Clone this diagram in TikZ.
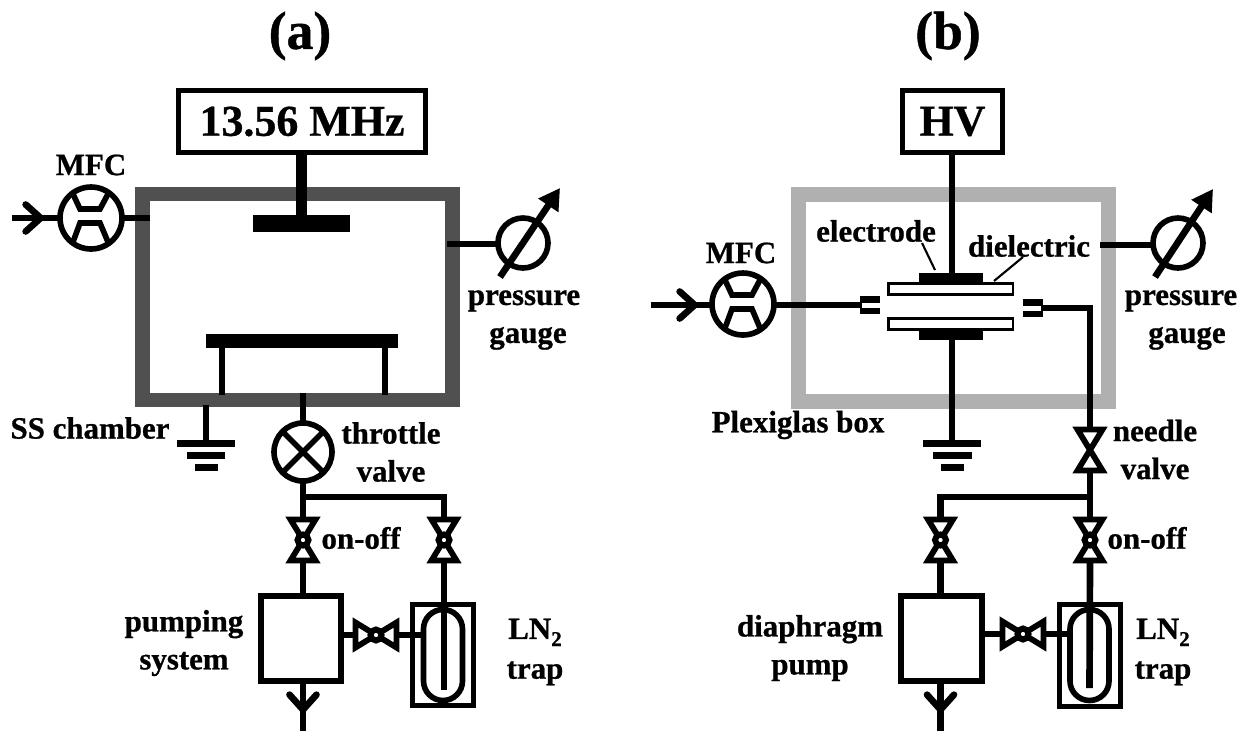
\documentclass[tikz,border=0pt]{standalone}
\usepackage{fontspec}
\setmainfont[BoldFeatures={FakeBold=0.8}]{Liberation Serif}
\usetikzlibrary{arrows.meta}
\definecolor{steelgray}{HTML}{505050}
\definecolor{plexigray}{HTML}{B0B0B0}
\tikzset{
  wire/.style={line width=3.8pt},
  thin wire/.style={line width=2pt},
  lab/.style={font=\fontsize{17.6}{21.6}\selectfont\bfseries,align=center,inner sep=0},
  big/.style={font=\fontsize{25}{30}\selectfont\bfseries,inner sep=0},
  title/.style={font=\fontsize{30.5}{36}\selectfont\bfseries,inner sep=0},
  box/.style={draw,line width=#1,outer sep=0,inner sep=0},
  solid block/.style={fill=black,outer sep=0,inner sep=0},
  dial/.style={draw,circle,line width=3.2pt,outer sep=0,inner sep=0},
  tank/.style={draw,line width=3.2pt,rounded corners=0.39cm,outer sep=0,inner sep=0,minimum width=0.78cm,minimum height=1.82cm},
  barb/.style={-{Straight Barb[length=0.3cm,width=0.54cm,round,sep=0pt]}},
  needle/.style={line width=3.8pt,-{Triangle[length=0.42cm,width=0.46cm]}}
}
\newcommand{\vvalve}[2]{
\node[outer sep=0,inner sep=0,minimum width=0.5cm,minimum height=0.82cm] (#1) at (#2) {};
\draw[line width=3.3pt] (#1.north west) -- (#1.north east) -- (#1.south west) -- (#1.south east) -- cycle;
}
\newcommand{\hub}[1]{
\node[draw,circle,fill=white,line width=3.4pt,inner sep=0,minimum size=0.22cm] at (#1) {};
}
\newcommand{\hvalve}[2]{
\node[outer sep=0,inner sep=0,minimum width=0.82cm,minimum height=0.5cm] (#1) at (#2) {};
\draw[line width=3.3pt] (#1.north west) -- (#1.south west) -- (#1.north east) -- (#1.south east) -- cycle;
\hub{#1}
}
\newcommand{\mfc}[2]{
\node[dial,minimum size=1.24cm] (#1) at (#2) {};
\draw[line width=3.2pt,shift={(#1.center)}] (-18,-24) -- (-11,-9) -- (9,-9) -- (17,-24);
\draw[line width=3.2pt,shift={(#1.center)}] (-18,24) -- (-11,5) -- (9,5) -- (17,24);
}
\newcommand{\ground}[2]{
\node[solid block,minimum width=1.16cm,minimum height=0.14cm] (#1) at (#2) {};
\node[solid block,minimum width=0.78cm,minimum height=0.14cm] (#1m) at ([yshift=-0.24cm]#1) {};
\node[solid block,minimum width=0.46cm,minimum height=0.14cm] (#1l) at ([yshift=-0.48cm]#1) {};
}
\begin{document}
\begin{tikzpicture}[x=0.02cm,y=-0.02cm]
\useasboundingbox (0,0) rectangle (1257,731);

\node[title] (ta) at (300,36) {(a)};
\node[title] (tb) at (948,36) {(b)};

\node[box=8.5pt,draw=steelgray,minimum width=6.2cm,minimum height=4.12cm] (chamber) at (297.5,297) {};
\node[box=3.2pt,minimum width=4.94cm,minimum height=1.24cm,big] (rf) at (302,121.5) {13.56 MHz};
\node[solid block,minimum width=1.94cm,minimum height=0.34cm] (plateA) at (301.5,223.5) {};
\node[solid block,minimum width=3.84cm,minimum height=0.28cm] (baseA) at (302,341) {};
\draw[line width=6.6pt] (rf.south -| plateA) -- (plateA.north);
\coordinate (legAl) at (222,395);
\coordinate (legAr) at (385,395);
\draw[wire] (legAl |- baseA.south) -- (legAl);
\draw[wire] (legAr |- baseA.south) -- (legAr);

\mfc{mfcA}{91,218}
\coordinate (inA) at (12,218);
\coordinate (tipA) at (44,218);
\coordinate (wallAl) at (150,218);
\draw[wire] (inA) -- (mfcA.west);
\draw[wire,barb] (inA) -- (tipA);
\draw[wire] (mfcA.east) -- (wallAl);
\node[lab] (mfcAlab) at (91,165) {MFC};

\node[dial,minimum size=1cm] (gaugeA) at (523,243) {};
\coordinate (wallAr) at (447,244);
\coordinate (tailA) at (500,277);
\coordinate (headA) at (560,188);
\draw[wire] (wallAr) -- (wallAr -| gaugeA.west);
\draw[needle] (tailA) -- (headA);
\node[lab] (gaugeAlab) at (524,320) {pressure\\\hspace*{0.16cm}gauge};

\ground{gndA}{206,443.5}
\coordinate (wallAb) at (206,405);
\draw[wire] (wallAb) -- (gndA.north);
\node[lab] (chamberlab) at (90,428) {SS chamber};

\node[dial,minimum size=1.16cm] (throttle) at (303,452) {};
\draw[line width=3.2pt] (throttle.45) -- (throttle.225);
\draw[line width=3.2pt] (throttle.135) -- (throttle.-45);
\coordinate (floorA) at (303,393);
\coordinate (joinA) at (303,497);
\draw[wire] (floorA) -- (throttle.north);
\node[lab] (throttlelab) at (391,452) {throttle\\valve};

\vvalve{onA}{303,540}
\vvalve{onAr}{444,540}
\draw[wire] (throttle.south) -- (onA.north);
\draw[wire] (joinA) -| (onAr.north);
\hub{onA}
\hub{onAr}
\node[lab] (onAlab) at (361,538) {on-off};

\node[box=3.4pt,minimum width=1.6cm,minimum height=1.7cm] (pumpA) at (301,638.5) {};
\node[box=3.2pt,minimum width=1.22cm,minimum height=2.02cm] (trapA) at (443,655) {};
\node[tank] (tankA) at (443,655) {};
\coordinate (stemA) at (444,690);
\coordinate (outA) at (303,731);
\coordinate (tipoutA) at (303,713);
\draw[wire] (onA.south) -- (onA.south |- pumpA.north);
\draw[wire] (onAr.south) -- (stemA);
\hvalve{crossA}{376,635}
\draw[wire] (crossA.west -| pumpA.east) -- (crossA.west);
\draw[wire] (crossA.east) -- (crossA.east -| tankA.west);
\draw[wire] (tipoutA |- pumpA.south) -- (outA);
\draw[wire,barb] (tipoutA |- pumpA.south) -- (tipoutA);
\node[lab] (pumpAlab) at (184,643) {pumping\\system};
\node[lab] (trapAlab) at (535,652) {LN{\raisebox{-4pt}{\fontsize{12}{12}\selectfont 2}}\\[1pt]trap};

\node[box=8.5pt,draw=plexigray,minimum width=6.2cm,minimum height=4.14cm] (plexi) at (953.5,298) {};
\node[box=3.2pt,minimum width=2cm,minimum height=1.24cm,big] (hv) at (952.5,121.5) {HV};
\node[solid block,minimum width=1.28cm,minimum height=0.2cm] (elecT) at (951,278) {};
\node[solid block,minimum width=1.28cm,minimum height=0.2cm] (elecB) at (951,335) {};
\node[box=1.7pt,fill=white,minimum width=2.5cm,minimum height=0.21cm] (dielT) at (950.5,289) {};
\node[box=1.7pt,fill=white,minimum width=2.5cm,minimum height=0.21cm] (dielB) at (950.5,324) {};
\coordinate (stemBt) at (952,273);
\coordinate (stemBb) at (952,340);
\draw[wire] (hv.south -| stemBt) -- (stemBt);

\mfc{mfcB}{743,304}
\coordinate (inB) at (651,305);
\coordinate (tipB) at (698,305);
\draw[wire] (inB) -- (inB -| mfcB.west);
\draw[wire,barb] (inB) -- (tipB);
\node[lab] (mfcBlab) at (741,253) {MFC};

\node[solid block,minimum width=0.4cm,minimum height=0.13cm] (nozLt) at (870,299.5) {};
\node[solid block,minimum width=0.4cm,minimum height=0.13cm] (nozLb) at (870,311) {};
\node[solid block,minimum width=0.4cm,minimum height=0.13cm] (nozRt) at (1033,302.5) {};
\node[solid block,minimum width=0.4cm,minimum height=0.13cm] (nozRb) at (1033,314) {};
\coordinate (nozLm) at (860,305);
\coordinate (nozRm) at (1043,308);
\draw[thin wire] (nozLt.south west) -- (nozLb.north west);
\draw[thin wire] (nozRt.south east) -- (nozRb.north east);
\draw[wire] (nozLm -| mfcB.east) -- (nozLm);

\node[dial,minimum size=1cm] (gaugeB) at (1178,243) {};
\coordinate (wallBr) at (1100,245);
\coordinate (tailB) at (1155,277);
\coordinate (headB) at (1213,189);
\draw[wire] (wallBr) -- (wallBr -| gaugeB.west);
\draw[needle] (tailB) -- (headB);
\node[lab] (gaugeBlab) at (1181,320) {pressure\\\hspace*{0.24cm}gauge};

\ground{gndB}{952,443.5}
\draw[wire] (stemBb) -- (gndB.north);
\node[lab] (plexilab) at (798,425) {Plexiglas box};

\node[lab] (eleclab) at (876,231) {electrode};
\node[lab] (diellab) at (1029,246) {dielectric};
\coordinate (elecstart) at (922,243);
\coordinate (elecend) at (935,270);
\coordinate (dielstart) at (1023,257);
\coordinate (dielend) at (994,281);
\draw[line width=1.2pt] (elecstart) -- (elecend);
\draw[line width=1.2pt] (dielstart) -- (dielend);

\vvalve{needleB}{1090,450}
\coordinate (joinB) at (1090,497);
\draw[wire] (nozRm) -| (needleB.north);
\vvalve{onBl}{940.5,540}
\vvalve{onB}{1090,540}
\draw[wire] (needleB.south) -- (onB.north);
\draw[wire] (joinB) -| (onBl.north);
\hub{onBl}
\hub{onB}
\node[lab] (needlelab) at (1155,449.5) {needle\\valve};
\node[lab] (onBlab) at (1147,538) {on-off};

\node[box=3.4pt,minimum width=1.62cm,minimum height=1.7cm] (pumpB) at (941.5,638.5) {};
\node[box=3.2pt,minimum width=1.22cm,minimum height=2.04cm] (trapB) at (1090,655.5) {};
\node[tank] (tankB) at (1089.5,655) {};
\coordinate (stemB) at (1089.5,688);
\coordinate (outB) at (940.5,731);
\coordinate (tipoutB) at (940.5,713);
\draw[wire] (onBl.south) -- (onBl.south |- pumpB.north);
\draw[wire] (onB.south) -- (stemB);
\hvalve{crossB}{1023,634}
\draw[wire] (crossB.west -| pumpB.east) -- (crossB.west);
\draw[wire] (crossB.east) -- (crossB.east -| tankB.west);
\draw[wire] (tipoutB |- pumpB.south) -- (outB);
\draw[wire,barb] (tipoutB |- pumpB.south) -- (tipoutB);
\node[lab] (pumpBlab) at (810,648) {diaphragm\\pump};
\node[lab] (trapBlab) at (1163,652) {LN{\raisebox{-4pt}{\fontsize{12}{12}\selectfont 2}}\\[1pt]trap};
\end{tikzpicture}
\end{document}
